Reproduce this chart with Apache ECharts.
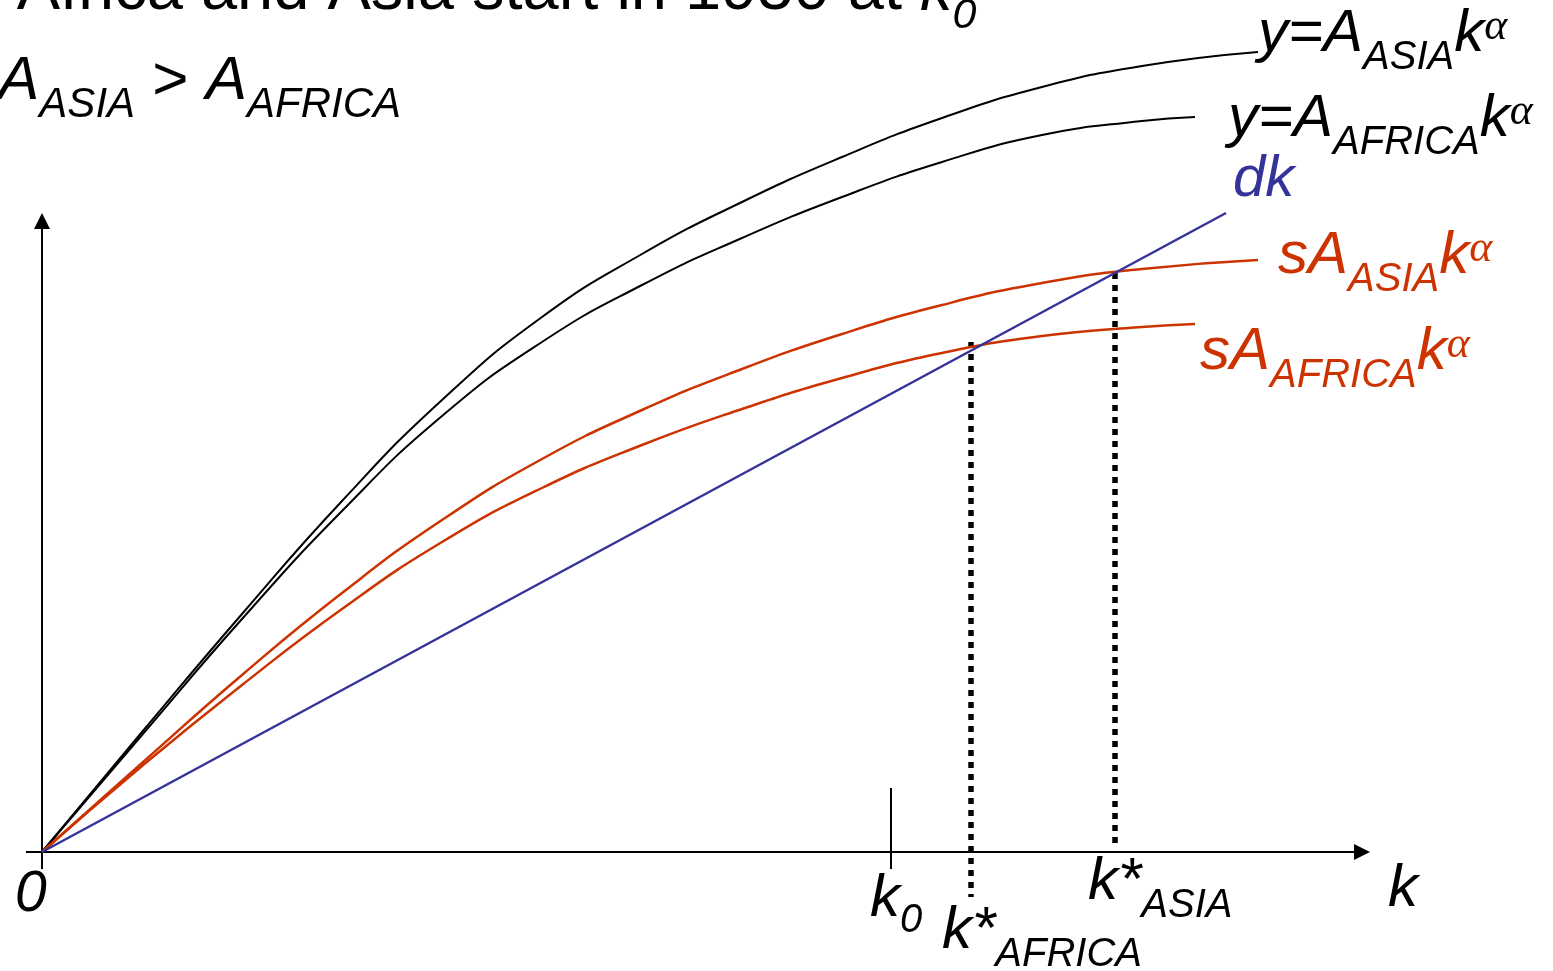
<!DOCTYPE html>
<html><head><meta charset="utf-8">
<script src="https://cdn.jsdelivr.net/npm/echarts@6/dist/echarts.min.js"></script>
<style>html,body{margin:0;padding:0;background:#fff;overflow:hidden}#c{width:1553px;height:971px}</style>
</head><body><div id="c"></div>
<script>
// ---- data (k, output) in chart units ----
const yAsia   = [[0,0],[100,120],[200,238],[300,351],[400,452],[500,535],[600,598],[700,650],[800,695],[900,734],[1000,765],[1100,786],[1216,800]];
const yAfrica = [[0,0],[100,117],[200,233],[300,341],[400,436],[500,510],[600,567],[700,614],[800,655],[900,690],[1000,717],[1100,731],[1153,735]];
const sAsia   = [[0,0],[100,89],[200,177],[300,259],[400,332],[500,393],[600,442],[700,483],[800,518],[900,547],[1000,569],[1100,583],[1216,592]];
const sAfrica = [[0,0],[100,86],[200,167],[300,243],[400,310],[500,364],[600,407],[700,443],[800,474],[900,499],[1000,516],[1100,525],[1153,528]];
const dkLine  = [[0,0],[1184,639]];
const k0 = 849;
const kStarAfrica = [[929,510],[929,-45]];
const kStarAsia   = [[1073,579],[1073,4]];
const xAxisSeg = [[-16,0],[1320,0]];
const yAxisSeg = [[0,-17],[0,631]];
const k0Tick = [[k0,-17],[k0,64]];

const BLACK = '#000000', ORANGE = '#CC3300', BLUE = '#333399';
const SANS = "'Liberation Sans', Arial, sans-serif";
const SERIF = "'Liberation Serif', 'Times New Roman', serif";

// ---- label runs: [text, size, dy, style, family] ----
const labels = [
  {x: null, anchorK: 920, y: 14, c: BLACK, p: [['If Africa and Asia start in 1950 at ',65,0,'normal'],['k',65,0],['0',43,17]]},
  {x: -2, y: 103, c: BLACK, p: [['A',62,0],['ASIA',42,17],[' > ',62,0,'normal'],['A',62,0],['AFRICA',42,17]]},
  {x: 1258, y: 55, c: BLACK, p: [['y=A',60,0],['ASIA',40,17],['k',60,0],['\u03b1',44,-13,'italic',SERIF]]},
  {x: 1228, y: 140, c: BLACK, p: [['y=A',60,0],['AFRICA',40,17],['k',60,0],['\u03b1',44,-13,'italic',SERIF]]},
  {x: 1233, y: 200, c: BLUE, p: [['dk',58,0]]},
  {x: 1278, y: 277, c: ORANGE, p: [['sA',60,0],['ASIA',40,17],['k',60,0],['\u03b1',44,-13,'italic',SERIF]]},
  {x: 1200, y: 373, c: ORANGE, p: [['sA',60,0],['AFRICA',40,17],['k',60,0],['\u03b1',44,-13,'italic',SERIF]]},
  {x: 15, y: 915, c: BLACK, p: [['0',57,0]]},
  {x: 870, y: 920, c: BLACK, p: [['k',60,0],['0',40,15]]},
  {x: 942, y: 952, c: BLACK, p: [['k*',60,0],['AFRICA',40,17]]},
  {x: 1088, y: 903, c: BLACK, p: [['k*',60,0],['ASIA',40,17]]},
  {x: 1388, y: 910, c: BLACK, p: [['k',60,0]]}
];

const mctx = document.createElement('canvas').getContext('2d');
function fontOf(st, size, fam){ return (st||'italic') + ' ' + size + 'px ' + (fam||SANS); }
function measure(t, f){ mctx.font = f; return mctx.measureText(t).width; }
const graphics = [];
labels.forEach(L => {
  let cx = L.x;
  if (cx === null) {
    const f0 = fontOf(L.p[0][3], L.p[0][1], L.p[0][4]);
    cx = L.anchorK - measure(L.p[0][0], f0);
  }
  L.p.forEach(([t, size, dy, st, fam]) => {
    const f = fontOf(st, size, fam);
    const k = fam === SERIF ? 0.3375 : 0.3465;
    graphics.push({type:'text', x: cx, y: L.y + dy - k*size, silent: true,
      style: {text: t, font: f, fill: L.c, align: 'left', verticalAlign: 'middle'}});
    cx += measure(t, f);
  });
});

function curve(name, data, color, width, smooth){
  return {name, type:'line', data, showSymbol:false, symbol:'none', smooth: smooth,
    lineStyle:{color, width}, silent:true, z:3};
}

const chart = echarts.init(document.getElementById('c'), null, {renderer:'canvas'});
chart.setOption({
  animation:false,
  backgroundColor:'#ffffff',
  grid:{left:0,right:0,top:0,bottom:0},
  xAxis:{type:'value', min:-42, max:1511, show:false},
  yAxis:{type:'value', min:-119, max:852, show:false},
  series:[
    {type:'lines', coordinateSystem:'cartesian2d', symbol:['none','triangle'], symbolSize:[16,16],
      lineStyle:{color:BLACK, width:2, opacity:1}, silent:true, z:2,
      data:[{coords:xAxisSeg},{coords:yAxisSeg}]},
    {type:'lines', coordinateSystem:'cartesian2d', symbol:['none','none'],
      lineStyle:{color:BLACK, width:2, opacity:1}, silent:true, z:2,
      data:[{coords:k0Tick}]},
    {type:'lines', coordinateSystem:'cartesian2d', symbol:['none','none'],
      lineStyle:{color:BLACK, width:5.5, opacity:1, type:[6,6], cap:'butt'}, silent:true, z:2,
      data:[{coords:kStarAfrica},{coords:kStarAsia}]},
    curve('yAsia', yAsia, BLACK, 2, 0.5),
    curve('yAfrica', yAfrica, BLACK, 2, 0.5),
    curve('sAsia', sAsia, ORANGE, 2.5, 0.5),
    curve('sAfrica', sAfrica, ORANGE, 2.5, 0.5),
    curve('dk', dkLine, BLUE, 2.5, false)
  ],
  graphic: graphics
});
</script></body></html>
